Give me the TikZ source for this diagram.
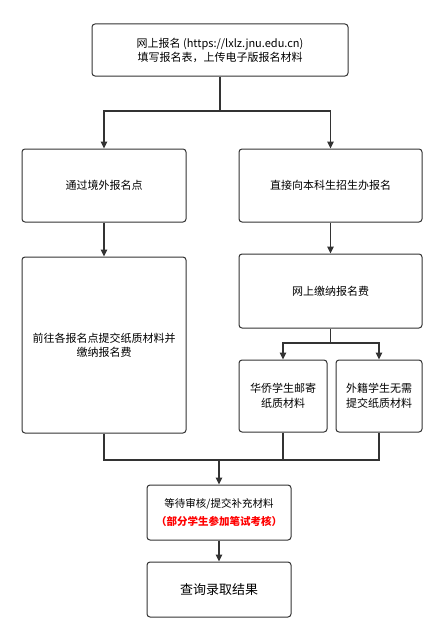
\documentclass[tikz,border=0pt]{standalone}
\usepackage{fontspec}
\setmainfont{Noto Sans CJK SC}
\usetikzlibrary{arrows.meta,positioning}
\definecolor{Ink}{HTML}{333333}
\definecolor{Alert}{HTML}{FF0000}
\tikzset{
  stepbox/.style={
    rounded corners=3pt, draw=Ink, line width=1pt, fill=white,
    align=center, inner sep=0pt, font=\fontsize{11}{14}\selectfont
  },
  flow/.style={-{Triangle[length=7pt,width=6.5pt]}, line width=1.2pt, draw=Ink},
  link/.style={line width=1.2pt, draw=Ink}
}

\begin{document}
\begin{tikzpicture}[x=1pt,y=-1pt]
  \useasboundingbox[fill=white] (0,0) rectangle (443,642);
  \node[stepbox,minimum width=256pt,minimum height=52pt] (apply) at (220,50)
    {网上报名 (https://lxlz.jnu.edu.cn)\\填写报名表，上传电子版报名材料};
  \node[stepbox,minimum width=164pt,minimum height=73pt] (abroad) at (104,185.5) {通过境外报名点};
  \node[stepbox,minimum width=183pt,minimum height=73pt] (direct) at (330.5,185.5) {直接向本科生招生办报名};
  \node[stepbox,minimum width=164pt,minimum height=176pt] (paper) at (104,345)
    {前往各报名点提交纸质材料并\\缴纳报名费};
  \node[stepbox,minimum width=183pt,minimum height=74pt] (fee) at (330.5,291) {网上缴纳报名费};
  \node[stepbox,minimum width=88pt,minimum height=72pt,font=\fontsize{11}{15.5}\selectfont] (overseas) at (283,396)
    {华侨学生邮寄\\纸质材料};
  \node[stepbox,minimum width=86pt,minimum height=72pt,font=\fontsize{11}{15.5}\selectfont] (foreign) at (379,396)
    {外籍学生无需\\提交纸质材料};
  \node[stepbox,minimum width=144pt,minimum height=55pt,font=\fontsize{10.5}{18}\selectfont] (wait) at (219,512.5)
    {等待审核/提交补充材料\\{\color{Alert}\bfseries （部分学生参加笔试考核）}};
  \node[stepbox,minimum width=144pt,minimum height=55pt,font=\fontsize{13}{16}\selectfont] (result) at (219,589.5) {查询录取结果};

  \coordinate (split) at (220,111);
  \coordinate (fork) at (330.5,343);
  \coordinate (join) at (219,460);

  \draw[link] (apply.south) -- (split);
  \draw[flow] (split) -| (abroad.north);
  \draw[flow] (split) -| (direct.north);
  \draw[flow] (abroad) -- (paper);
  \draw[flow] (direct) -- (fee);
  \draw[link] (fee.south) -- (fork);
  \draw[flow] (fork) -| (overseas.north);
  \draw[flow] (fork) -| (foreign.north);
  \draw[link] (paper.south) |- (join);
  \draw[link] (overseas.south) |- (join);
  \draw[link] (foreign.south) |- (join);
  \draw[flow] (join) -- (wait);
  \draw[flow] (wait) -- (result);
\end{tikzpicture}
\end{document}
